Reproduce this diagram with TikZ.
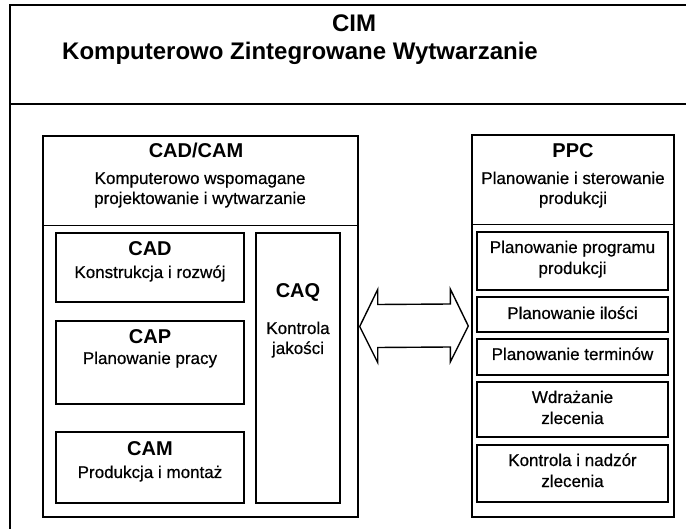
\documentclass[tikz,border=0pt]{standalone}
\usepackage{fontspec}
\setmainfont{Liberation Sans}
\newfontfamily\labelfont[FakeBold=0.6]{Liberation Sans}
\usetikzlibrary{calc,fit}
\begin{document}
\begin{tikzpicture}[x=1pt,y=-1pt,
  frameline/.style={line width=1.8pt},
  box/.style={draw, line width=1.4pt, inner sep=0pt},
  divider/.style={line width=1.4pt},
  bigtitle/.style={font=\fontsize{24}{28}\selectfont\bfseries, inner sep=0pt, anchor=base},
  head/.style={font=\fontsize{20}{24}\selectfont\bfseries, inner sep=0pt, anchor=base},
  sub/.style={font=\labelfont\fontsize{17}{20}\selectfont, inner sep=0pt, anchor=base},
  arrowshape/.style={draw, line width=1.4pt, fill=white, line join=miter},
]
\useasboundingbox (0,0) rectangle (686,529);

% outer frame (open to the right and bottom)
\coordinate (fTL) at (10,5);
\coordinate (fBL) at (10,529);
\coordinate (fTR) at (686,5);
\coordinate (sepL) at (10,104);
\coordinate (sepR) at (686,104);
\draw[frameline] (fBL) -- (fTL) -- (fTR);
\draw[frameline] (sepL) -- (sepR);

% title
\node[bigtitle] (cim) at (354,32) {CIM};
\node[bigtitle] (cimsub) at (300,60) {Komputerowo Zintegrowane Wytwarzanie};

% CAD/CAM block
\node[box, fit={(43,136) (358,517)}] (cadcam) {};
\draw[divider] ($(cadcam.north west)+(0,90)$) -- ($(cadcam.north east)+(0,90)$);
\node[head] (cadcamh) at (196,158) {CAD/CAM};
\node[sub] (cadcamA) at (200,184) {Komputerowo wspomagane};
\node[sub] (cadcamB) at (200,204) {projektowanie i wytwarzanie};

\node[box, fit={(56,233) (244,302)}] (cad) {};
\node[head] (cadh) at (cad.north |- 0,256) {CAD};
\node[sub] (cads) at (cad.north |- 0,278) {Konstrukcja i rozwój};

\node[box, fit={(56,321) (244,404)}] (cap) {};
\node[head] (caph) at (cap.north |- 0,344) {CAP};
\node[sub] (caps) at (cap.north |- 0,364) {Planowanie pracy};

\node[box, fit={(56,432) (244,503)}] (cam) {};
\node[head] (camh) at (cam.north |- 0,456) {CAM};
\node[sub] (cams) at (cam.north |- 0,478) {Produkcja i montaż};

\node[box, fit={(256,233) (340,503)}] (caq) {};
\node[head] (caqh) at (caq.north |- 0,298) {CAQ};
\node[sub] (caqA) at (caq.north |- 0,334) {Kontrola};
\node[sub] (caqB) at (caq.north |- 0,354) {jakości};

% PPC block
\node[box, fit={(472,135) (674,517)}] (ppc) {};
\draw[divider] ($(ppc.north west)+(0,90)$) -- ($(ppc.north east)+(0,90)$);
\node[head] (ppch) at (ppc.north |- 0,158) {PPC};
\node[sub] (ppcA) at (ppc.north |- 0,184) {Planowanie i sterowanie};
\node[sub] (ppcB) at (ppc.north |- 0,204) {produkcji};

\node[box, fit={(477,232) (668,290)}] (pp1) {};
\node[sub] (pp1a) at (pp1.north |- 0,253) {Planowanie programu};
\node[sub] (pp1b) at (pp1.north |- 0,274) {produkcji};

\node[box, fit={(477,297) (668,332)}] (pp2) {};
\node[sub] (pp2a) at (pp2.north |- 0,319) {Planowanie ilości};

\node[box, fit={(477,339) (668,375)}] (pp3) {};
\node[sub] (pp3a) at (pp3.north |- 0,360) {Planowanie terminów};

\node[box, fit={(477,382) (668,437)}] (pp4) {};
\node[sub] (pp4a) at (pp4.north |- 0,403) {Wdrażanie};
\node[sub] (pp4b) at (pp4.north |- 0,424) {zlecenia};

\node[box, fit={(477,445) (668,502)}] (pp5) {};
\node[sub] (pp5a) at (pp5.north |- 0,466) {Kontrola i nadzór};
\node[sub] (pp5b) at (pp5.north |- 0,487) {zlecenia};

% two-headed block arrow between the blocks
\coordinate (tipL) at ($(cadcam.east)+(1,0)$);
\coordinate (tipR) at ($(ppc.west)+(-3,0)$);
\draw[arrowshape] (tipL) -- ++(18,-37) -- ++(0,15) -- ($(tipR)+(-18,-22)$)
  -- ++(0,-15) -- (tipR) -- ++(-18,36) -- ++(0,-15) -- ($(tipL)+(18,21)$)
  -- ++(0,15) -- cycle;
\end{tikzpicture}
\end{document}
